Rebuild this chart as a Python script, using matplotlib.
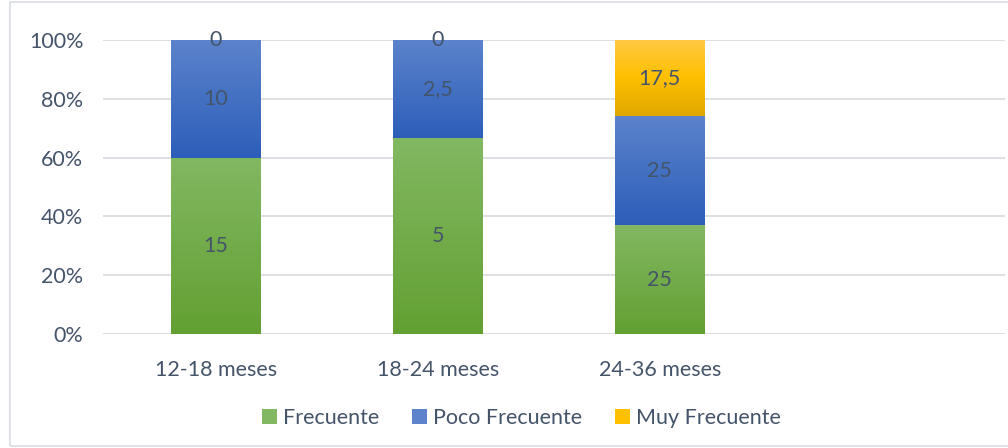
import numpy as np
import matplotlib.pyplot as plt
from matplotlib.colors import LinearSegmentedColormap
from matplotlib.patches import Rectangle

plt.rcParams['font.family'] = ['Lato', 'DejaVu Sans']

categories = ['12-18 meses', '18-24 meses', '24-36 meses', '']
frecuente = [15, 5, 25, 0]
poco = [10, 2.5, 25, 0]
muy = [0, 0, 17.5, 0]
labels_f = ['15', '5', '25', None]
labels_p = ['10', '2,5', '25', None]
labels_m = ['0', '0', '17,5', None]

series = [
    ('Frecuente', frecuente, labels_f, ['#62a032', '#82b862']),
    ('Poco Frecuente', poco, labels_p, ['#2c5eb9', '#5c83cc']),
    ('Muy Frecuente', muy, labels_m, ['#dfa800', '#ffc000', '#ffc845']),
]
txt = '#44546a'
fs = 15.5

fig = plt.figure(figsize=(10.08, 4.48), dpi=100)
ax = fig.add_axes([0.102, 0.2545, 0.895, 0.6562])

totals = np.array(frecuente) + np.array(poco) + np.array(muy)
x = np.arange(len(categories))
bottom = np.zeros(len(categories))
width = 0.405
grad = np.linspace(0, 1, 256).reshape(-1, 1)
for name, vals, labs, cols in series:
    vals = np.array(vals, dtype=float)
    pct = np.where(totals > 0, vals / np.where(totals > 0, totals, 1) * 100, 0)
    cmap = LinearSegmentedColormap.from_list(name, cols)
    bars = ax.bar(x, pct, width, bottom=bottom, color=cols[1], label=name, zorder=2)
    for b, h, y0 in zip(bars, pct, bottom):
        if h > 0:
            im = ax.imshow(grad, cmap=cmap, aspect='auto', origin='lower',
                           extent=[b.get_x(), b.get_x() + width, y0, y0 + h], zorder=3)
            im.set_clip_path(b)
    for xi, h, y0, lab in zip(x, pct, bottom, labs):
        if lab is not None:
            ax.text(xi, y0 + h / 2, lab, ha='center', va='center', fontsize=fs,
                    color=txt, zorder=4)
    bottom += pct

ax.set_xlim(-0.509, 3.554)
ax.set_ylim(0, 100)
ax.set_yticks(np.arange(0, 101, 20))
ax.set_yticklabels([f'{v}%' for v in range(0, 101, 20)])
ax.set_xticks(x[:3])
ax.set_xticklabels(categories[:3])
ax.tick_params(axis='both', length=0, labelsize=fs, colors=txt)
ax.tick_params(axis='y', pad=14)
ax.tick_params(axis='x', pad=18.5)
ax.grid(axis='y', color='#d9dde3', linewidth=1.3, zorder=0)
for s in ax.spines.values():
    s.set_visible(False)
ax.axhline(0, color='#d9dde3', linewidth=1.3, zorder=1)

leg = fig.legend(loc='center', bbox_to_anchor=(0.5174, 0.066), ncol=3, frameon=False,
                 fontsize=fs, handlelength=0.7, handleheight=0.7, columnspacing=1.5,
                 handletextpad=0.3, labelcolor=txt)
fig.add_artist(Rectangle((10 / 1008, 0.004), 1.0, 0.992, transform=fig.transFigure,
                         fill=False, edgecolor='#d9dde3', linewidth=1.2))

fig.savefig('out.png', dpi=100)
